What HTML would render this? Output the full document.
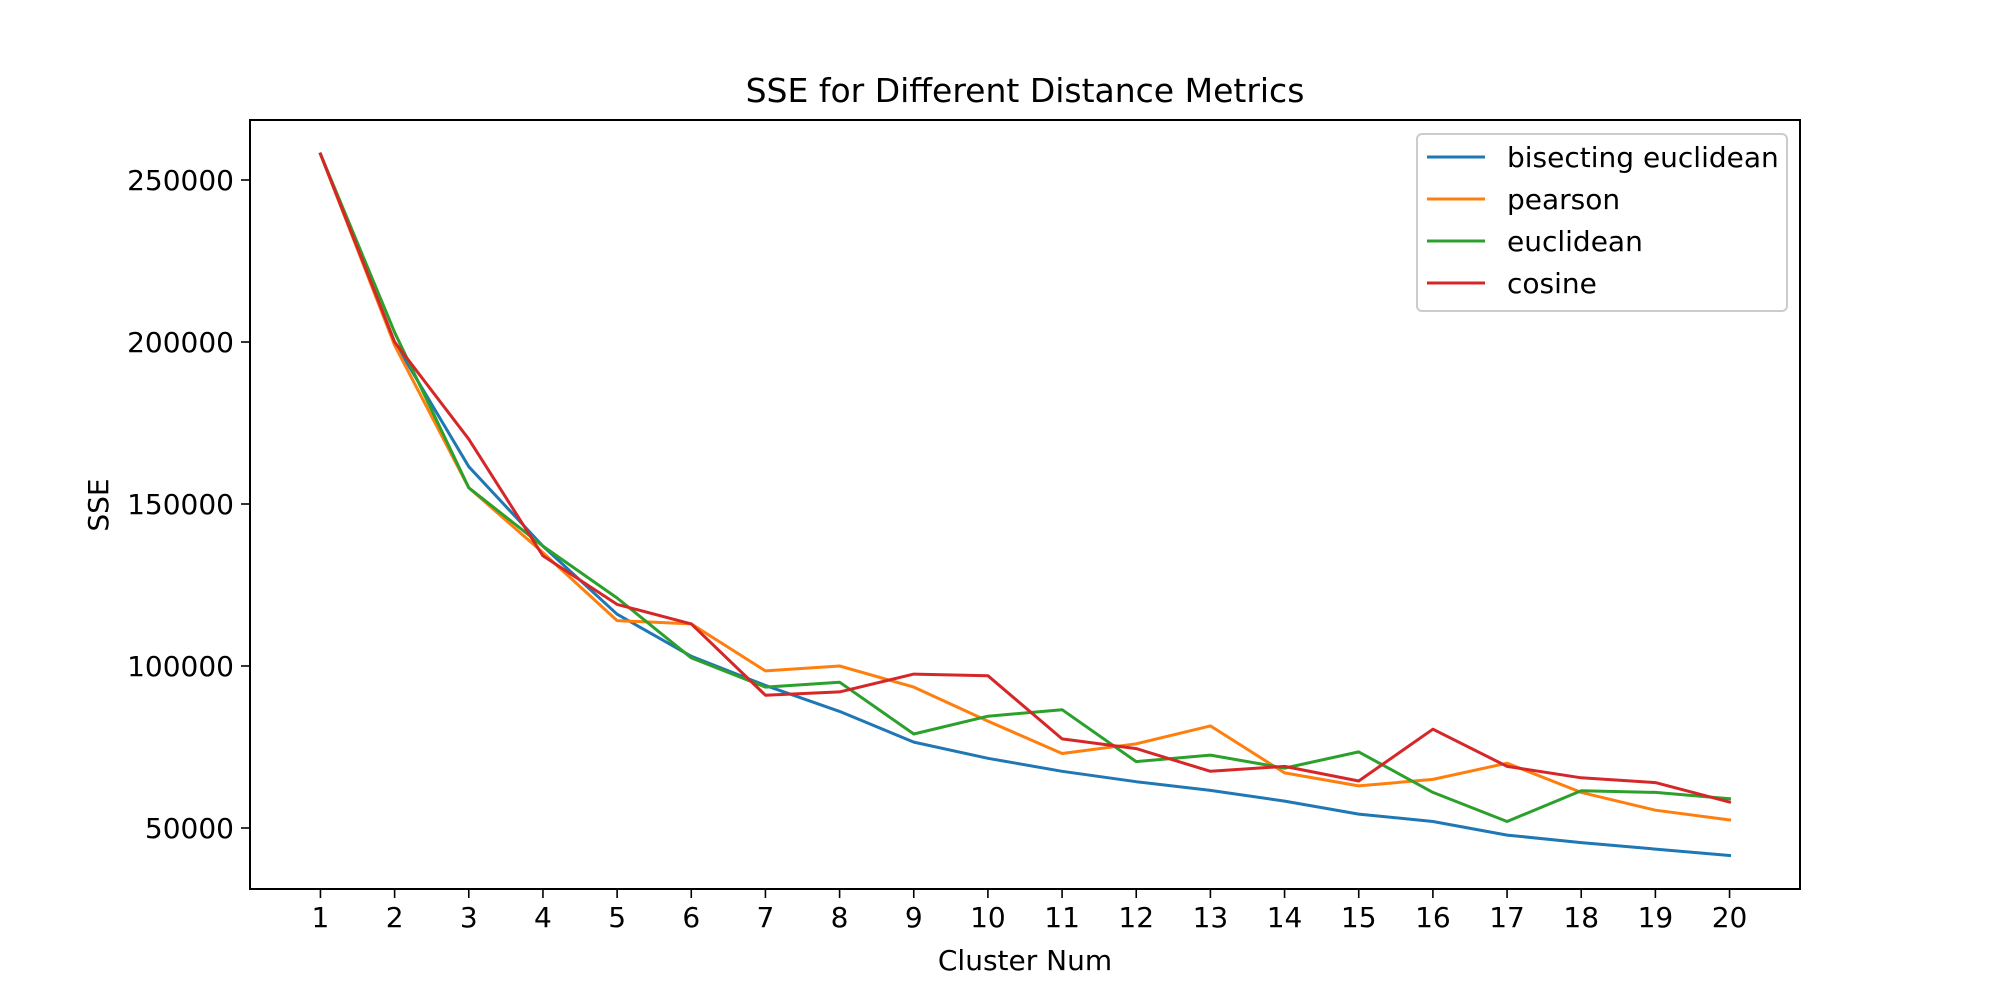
<!DOCTYPE html>
<html><head><meta charset="utf-8"><style>
html,body{margin:0;padding:0;background:#fff;}
svg{display:block;font-family:"DejaVu Sans","Liberation Sans",sans-serif;}
</style></head><body>
<svg id="chart" width="2000" height="1000" viewBox="0 0 2000 1000">
<rect width="2000" height="1000" fill="#fff"/>
<text x="1025" y="102" font-size="33" text-anchor="middle">SSE for Different Distance Metrics</text>
<g id="plot"></g>
<rect x="250" y="120" width="1550" height="769" fill="none" stroke="#000" stroke-width="2"/>
<text x="1025" y="970" font-size="28" text-anchor="middle">Cluster Num</text>
<text transform="translate(108,505) rotate(-90)" font-size="28" text-anchor="middle">SSE</text>
<g>
<rect x="1417" y="134" width="370" height="177" rx="5" fill="#fff" fill-opacity="0.8" stroke="#ccc" stroke-width="2"/>
<g><line x1="1427" y1="157" x2="1485" y2="157" stroke="#1f77b4" stroke-width="3"/><text x="1507" y="167" font-size="28">bisecting euclidean</text></g>
<g><line x1="1427" y1="199" x2="1485" y2="199" stroke="#ff7f0e" stroke-width="3"/><text x="1507" y="209" font-size="28">pearson</text></g>
<g><line x1="1427" y1="241" x2="1485" y2="241" stroke="#2ca02c" stroke-width="3"/><text x="1507" y="251" font-size="28">euclidean</text></g>
<g><line x1="1427" y1="283" x2="1485" y2="283" stroke="#d62728" stroke-width="3"/><text x="1507" y="293" font-size="28">cosine</text></g>
</g>
</svg>
<script>
const clusters = [1,2,3,4,5,6,7,8,9,10,11,12,13,14,15,16,17,18,19,20];
const bisecting = [258000,200000,161500,137000,116000,103000,94000,86000,76500,71500,67500,64300,61600,58300,54300,52000,47800,45500,43500,41500];
const pearson = [258000,199000,155000,135000,114000,113000,98500,100000,93500,83000,73000,76000,81500,67000,63000,65000,70000,61000,55500,52500];
const euclidean = [258000,203000,155000,137000,121000,102500,93500,95000,79000,84500,86500,70500,72500,68500,73500,61000,52000,61500,61000,59000];
const cosine = [258000,200000,170000,134000,119000,113000,91000,92000,97500,97000,77500,74500,67500,69000,64500,80500,69000,65500,64000,58000];
const yTicks = [50000,100000,150000,200000,250000];
const seriesNames = ["bisecting","pearson","euclidean","cosine"];
const seriesColors = ["#1f77b4","#ff7f0e","#2ca02c","#d62728"];

const L=250,R=1800,T=120,B=889;
const xMin=0.05, xMax=20.95;
function xs(v){return L+(v-xMin)/(xMax-xMin)*(R-L);}
function ys(v){return 828-(v-50000)/50000*162;}
const NS="http://www.w3.org/2000/svg";
const plot=document.getElementById('plot');
function mk(tag,attrs){const e=document.createElementNS(NS,tag);for(const k in attrs)e.setAttribute(k,attrs[k]);return e;}

clusters.forEach(c=>{
  const g=mk('g',{});
  
  
  const x=xs(c);
  g.appendChild(mk('line',{x1:x,y1:B,x2:x,y2:B+9,stroke:'#000','stroke-width':1.6}));
  const t=mk('text',{x:x,y:B+38,'font-size':28,'text-anchor':'middle'});t.textContent=c;g.appendChild(t);
  plot.appendChild(g);
});
yTicks.forEach(v=>{
  const g=mk('g',{});
  
  
  const y=ys(v);
  g.appendChild(mk('line',{x1:L-9,y1:y,x2:L,y2:y,stroke:'#000','stroke-width':1.6}));
  const t=mk('text',{x:L-16,y:y+10,'font-size':28,'text-anchor':'end'});t.textContent=v;g.appendChild(t);
  plot.appendChild(g);
});
[bisecting,pearson,euclidean,cosine].forEach((arr,i)=>{
  const pts=arr.map((v,j)=>xs(clusters[j]).toFixed(1)+','+ys(v).toFixed(1)).join(' ');
  const p=mk('polyline',{points:pts,fill:'none',stroke:seriesColors[i],'stroke-width':3,'stroke-linejoin':'round','stroke-linecap':'square'});
  
  
  plot.appendChild(p);
});
</script>
</body></html>
